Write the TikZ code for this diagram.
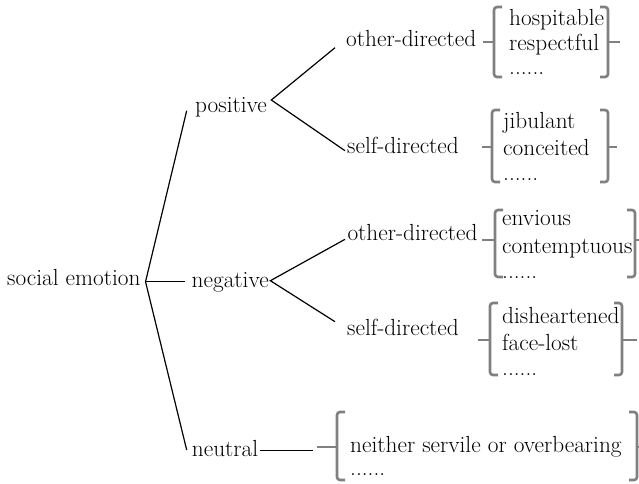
\documentclass[tikz,border=0pt]{standalone}
\usepackage{fontspec}
\definecolor{bgray}{RGB}{128,128,128}
\tikzset{
  lbl/.style={anchor=base west, inner sep=0pt, font=\rmfamily\fontsize{23.3}{28}\selectfont},
  branch/.style={draw=black, line width=1.2pt},
  brk/.style={draw=bgray, line width=2.6pt, rounded corners=3pt},
  nub/.style={draw=bgray, line width=2.6pt},
}
% square brackets with a middle nub on both sides of a word list
% #1 left x, #2 right x, #3 top, #4 bottom, #5 middle, #6 left nub, #7 right nub
\newcommand\listbrackets[7]{%
  \draw[brk] (#1+8,#3) -- (#1,#3) -- (#1,#4) -- (#1+8,#4);
  \draw[nub] (#1,#5) -- (#1-#6,#5);
  \draw[brk] (#2-8,#3) -- (#2,#3) -- (#2,#4) -- (#2-8,#4);
  \draw[nub] (#2,#5) -- (#2+#7,#5);
}
\begin{document}
\begin{tikzpicture}[x=1pt,y=-1pt]
\useasboundingbox[fill=white] (0,0) rectangle (639,483);

% main categories
\node[lbl] (se)  at (7,285)     {social emotion};
\node[lbl] (pos) at (195,112.7) {positive};
\node[lbl] (neg) at (191.5,287) {negative};
\node[lbl] (neu) at (191.7,456) {neutral};

% sub categories
\node[lbl] (od1) at (346,46.7)  {other-directed};
\node[lbl] (sd1) at (347,153)   {self-directed};
\node[lbl] (od2) at (347.3,240) {other-directed};
\node[lbl] (sd2) at (347,335)   {self-directed};

% word lists
\node[lbl] (a1) at (509,25)  {hospitable};
\node[lbl] (a2) at (509,50)  {respectful};
\node[lbl] (a3) at (509,74)  {......};
\node[lbl] (b1) at (503,128) {jibulant};
\node[lbl] (b2) at (503,155) {conceited};
\node[lbl] (b3) at (503,180) {......};
\node[lbl] (c1) at (502,225) {envious};
\node[lbl] (c2) at (502,253) {contemptuous};
\node[lbl] (c3) at (502,278) {......};
\node[lbl] (d1) at (502,323) {disheartened};
\node[lbl] (d2) at (502,350) {face-lost};
\node[lbl] (d3) at (502,375) {......};
\node[lbl] (e1) at (350,452) {neither servile or overbearing};
\node[lbl] (e2) at (350,475) {......};

% brackets around the lists
\listbrackets{494}{608}{7}{77}{42}{11}{12}
\listbrackets{492}{608}{110}{182}{147}{10}{9}
\listbrackets{495}{635}{210}{277}{240}{13}{6}
\listbrackets{490}{622}{303}{375}{340}{12}{15}
\listbrackets{337}{637}{412}{480}{447}{20}{6}

% branch points
\coordinate (v0) at ([xshift=4.8pt,yshift=3.3pt]se.base east);
\coordinate (v1) at ([xshift=4.3pt,yshift=12.7pt]pos.base east);
\coordinate (v2) at ([xshift=1.5pt,yshift=6.3pt]neg.base east);

\draw[branch] ([xshift=-8.3pt,yshift=2pt]pos.base west) -- (v0)
              -- ([xshift=-5pt,yshift=6pt]neu.base west);
\draw[branch] (v0) -- ([xshift=-6.5pt,yshift=5.3pt]neg.base west);

\draw[branch] ([xshift=-11pt,yshift=-1pt]od1.base west) -- (v1)
              -- ([xshift=-2pt,yshift=2.3pt]sd1.base west);
\draw[branch] ([xshift=-2.3pt,yshift=0.7pt]od2.base west) -- (v2)
              -- ([xshift=-12pt,yshift=13.3pt]sd2.base west);

\draw[branch] ([xshift=2pt,yshift=5.3pt]neu.base east)
              -- ([xshift=-37pt,yshift=1.3pt]e1.base west);
\end{tikzpicture}
\end{document}
